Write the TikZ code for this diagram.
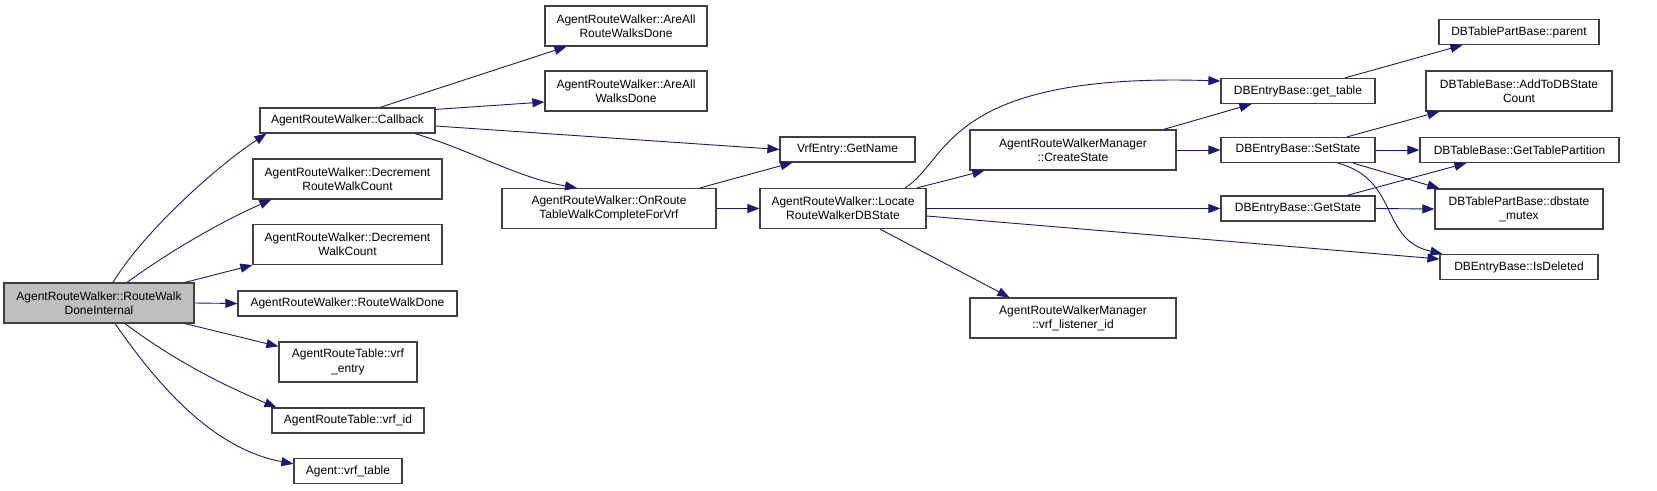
\documentclass[tikz,border=0pt]{standalone}
\usepackage{fontspec}
\setmainfont{Liberation Sans}
\usetikzlibrary{arrows.meta}
\definecolor{edgeblue}{HTML}{191970}
\definecolor{boxgray}{HTML}{404040}
\definecolor{maingray}{HTML}{BFBFBF}
\newcommand{\dgfont}{\fontsize{12}{14.3}\selectfont}
\tikzset{
  arr/.style={-{Triangle[length=12pt,width=9pt]},edgeblue,line width=0.9pt},
  fn/.style={rectangle,draw=boxgray,line width=1.2pt,align=center,
    font=\dgfont,inner sep=0pt,minimum height=25pt},
  fntwo/.style={fn,minimum height=40pt},
}

\begin{document}
\begin{tikzpicture}[x=1pt,y=-1pt]
\useasboundingbox (0,0) rectangle (1657,490);

% CALLER (left)
\node[fntwo,fill=maingray,minimum width=190pt] (RWDI) at (99,303) {AgentRouteWalker::RouteWalk\\DoneInternal};

% FIRST COLUMN
\node[fn,minimum width=175pt] (CB) at (347.5,120.5) {AgentRouteWalker::Callback};
\node[fntwo,minimum width=189pt] (DRWC) at (347.5,179) {AgentRouteWalker::Decrement\\RouteWalkCount};
\node[fntwo,minimum width=189pt] (DWC) at (347.5,244.5) {AgentRouteWalker::Decrement\\WalkCount};
\node[fn,minimum width=219pt] (RWD) at (347.5,303.5) {AgentRouteWalker::RouteWalkDone};
\node[fntwo,minimum width=138pt] (VE) at (348,362) {AgentRouteTable::vrf\\\_entry};
\node[fn,minimum width=152pt] (VI) at (348,420.5) {AgentRouteTable::vrf\_id};
\node[fn,minimum width=108pt] (VT) at (348,471) {Agent::vrf\_table};

% SECOND COLUMN
\node[fntwo,minimum width=162pt] (ARWD) at (626,26) {AgentRouteWalker::AreAll\\RouteWalksDone};
\node[fntwo,minimum width=162pt] (AWD) at (626,91) {AgentRouteWalker::AreAll\\WalksDone};
\node[fntwo,minimum width=214pt] (OR) at (609,208.5) {AgentRouteWalker::OnRoute\\TableWalkCompleteForVrf};

% THIRD COLUMN
\node[fn,minimum width=135pt] (GN) at (847.5,149.5) {VrfEntry::GetName};
\node[fntwo,minimum width=166pt] (LR) at (843,208.5) {AgentRouteWalker::Locate\\RouteWalkerDBState};

% FOURTH COLUMN
\node[fntwo,minimum width=206pt] (CS) at (1073,150) {AgentRouteWalkerManager\\::CreateState};
\node[fntwo,minimum width=206pt] (VL) at (1073,318) {AgentRouteWalkerManager\\::vrf\_listener\_id};

% FIFTH COLUMN
\node[fn,minimum width=154pt] (GT) at (1298,91) {DBEntryBase::get\_table};
\node[fn,minimum width=154pt] (SS) at (1298,150) {DBEntryBase::SetState};
\node[fn,minimum width=154pt] (GS) at (1298,208.5) {DBEntryBase::GetState};

% LAST COLUMN
\node[fn,minimum width=160pt] (PA) at (1519,32) {DBTablePartBase::parent};
\node[fntwo,minimum width=186pt] (AD) at (1519,91) {DBTableBase::AddToDBState\\Count};
\node[fn,minimum width=199pt] (GTP) at (1519.5,150) {DBTableBase::GetTablePartition};
\node[fntwo,minimum width=168pt] (DM) at (1519,209) {DBTablePartBase::dbstate\\\_mutex};
\node[fn,minimum width=158pt] (ID) at (1519,267) {DBEntryBase::IsDeleted};

% Calls from the caller
\draw[arr] ([xshift=14pt]RWDI.north) .. controls +(31,-51) and +(-50,33) .. ([xshift=7pt]CB.south west);
\draw[arr] ([xshift=28pt]RWDI.north) .. controls +(44,-32) and +(-50,22) .. ([xshift=19pt]DRWC.south west);
\draw[arr] ([xshift=86pt]RWDI.north) -- (DWC.south west);
\draw[arr] (RWDI.east) -- (RWD.west);
\draw[arr] ([xshift=86pt]RWDI.south) -- ([yshift=-5pt]VE.north west);
\draw[arr] ([xshift=26pt]RWDI.south) .. controls +(48,36) and +(-55,-23) .. ([xshift=5pt]VI.north west);
\draw[arr] ([xshift=16pt]RWDI.south) .. controls +(46,66) and +(-79,-15) .. ([yshift=-6pt]VT.north west);

% Calls from Callback
\draw[arr] ([xshift=32.5pt]CB.north) -- ([xshift=22pt]ARWD.south west);
\draw[arr] ([yshift=-2pt]CB.north east) -- ([yshift=-11pt]AWD.west);
\draw[arr] ([yshift=-5.5pt]CB.east) -- (GN.west);
\draw[arr] ([xshift=67.5pt]CB.south) .. controls +(57,17) and +(-59,-10) .. ([xshift=-32pt]OR.north);

% OnRoute / Locate
\draw[arr] ([xshift=91pt]OR.north) -- ([xshift=13pt]GN.south west);
\draw[arr] (OR.east) -- (LR.west);
\draw[arr] ([xshift=62pt]LR.north) .. controls +(45,-28) and +(-276,-9) .. ([yshift=10pt]GT.west);
\draw[arr] ([xshift=74pt]LR.north) -- ([xshift=15pt]CS.south west);
\draw[arr] (LR.east) -- (GS.west);
\draw[arr] ([yshift=-7.5pt]LR.east) -- ([yshift=8pt]ID.west);
\draw[arr] ([xshift=37pt]LR.south) -- ([xshift=40pt]VL.north west);

% CreateState
\draw[arr] ([xshift=-13pt]CS.north east) -- ([xshift=31pt]GT.south west);
\draw[arr] (CS.east) -- (SS.west);

% DBEntryBase calls
\draw[arr] ([xshift=47pt]GT.north) -- ([xshift=24pt]PA.south west);
\draw[arr] ([xshift=49pt]SS.north) -- ([xshift=14pt]AD.south west);
\draw[arr] (SS.east) -- (GTP.west);
\draw[arr] ([xshift=55pt]SS.south) -- ([xshift=5pt]DM.north west);
\draw[arr] ([xshift=40pt]SS.south) .. controls +(62,17) and +(-63,-14) .. ([xshift=3pt]ID.north west);
\draw[arr] ([xshift=49pt]GS.north) -- ([xshift=47pt]GTP.south west);
\draw[arr] (GS.east) -- (DM.west);
\end{tikzpicture}
\end{document}
